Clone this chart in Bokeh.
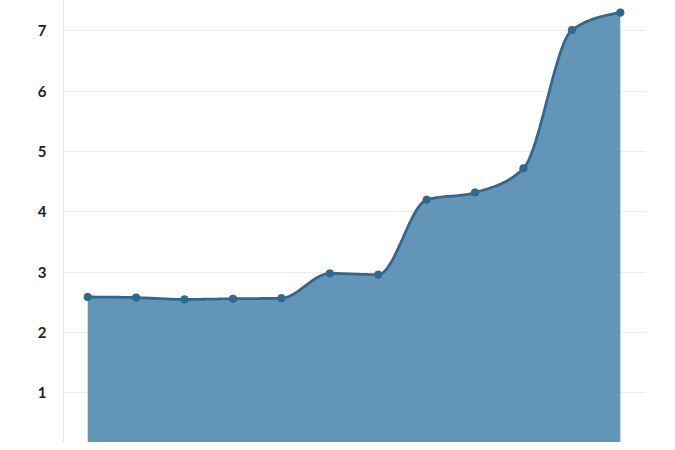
import numpy as np
from bokeh.plotting import figure
from bokeh.models import Range1d, FixedTicker
from bokeh.embed import file_html
from bokeh.resources import INLINE

# Data
periods = list(range(12))
values = [2.59, 2.58, 2.55, 2.56, 2.57, 2.98, 2.96, 4.20, 4.32, 4.72, 7.01, 7.30]
y_ticks = [0, 1, 2, 3, 4, 5, 6, 7]

LINE = "#2d6a93"
FILL = "#6395b9"


def monotone_curve(xs, ys, steps=24):
    """Sample a monotone cubic (d3 curveMonotoneX-like) through the points for drawing."""
    xs = np.asarray(xs, float)
    ys = np.asarray(ys, float)
    n = len(xs)
    h = np.diff(xs)
    d = np.diff(ys) / h
    m = np.zeros(n)
    for i in range(1, n - 1):
        if d[i - 1] * d[i] <= 0:
            m[i] = 0.0
        else:
            p = (d[i - 1] * h[i] + d[i] * h[i - 1]) / (h[i - 1] + h[i])
            m[i] = (np.sign(d[i - 1]) + np.sign(d[i])) * min(abs(d[i - 1]), abs(d[i]), 0.5 * abs(p))
    m[0] = (3 * d[0] - m[1]) / 2 if n > 2 else d[0]
    m[-1] = (3 * d[-1] - m[-2]) / 2 if n > 2 else d[-1]
    cx, cy = [], []
    for i in range(n - 1):
        t = np.linspace(0, 1, steps, endpoint=(i == n - 2))
        h00 = 2 * t**3 - 3 * t**2 + 1
        h10 = t**3 - 2 * t**2 + t
        h01 = -2 * t**3 + 3 * t**2
        h11 = t**3 - t**2
        cx.extend(xs[i] + t * h[i])
        cy.extend(h00 * ys[i] + h10 * h[i] * m[i] + h01 * ys[i + 1] + h11 * h[i] * m[i + 1])
    return np.array(cx), np.array(cy)


cx, cy = monotone_curve(periods, values)

p = figure(
    width=659, height=442,
    output_backend="svg", toolbar_location=None,
    x_range=Range1d(-0.5, 11.52), y_range=Range1d(0.18, 7.50),
    min_border_left=63, min_border_right=14, min_border_top=0, min_border_bottom=0,
)
p.outline_line_color = None
p.background_fill_color = "white"
p.border_fill_color = "white"

p.varea(x=cx, y1=0, y2=cy, fill_color=FILL, fill_alpha=1.0)
p.line(x=cx, y=cy, line_color=LINE, line_width=2.8)
p.scatter(x=periods, y=values, size=7.5, fill_color=LINE, line_color=LINE)

p.xaxis.visible = False
p.xgrid.grid_line_color = None
p.ygrid.grid_line_color = "#ececec"
p.ygrid.grid_line_width = 1

ax = p.yaxis[0]
ax.ticker = FixedTicker(ticks=y_ticks)
ax.axis_line_color = "#e6e6e6"
ax.major_tick_line_color = None
ax.minor_tick_line_color = None
ax.major_label_text_font = "Lato"
ax.major_label_text_font_style = "bold"
ax.major_label_text_font_size = "15px"
ax.major_label_text_color = "#222222"
ax.major_label_standoff = 11

open("out.html", "w").write(file_html(p, INLINE))
